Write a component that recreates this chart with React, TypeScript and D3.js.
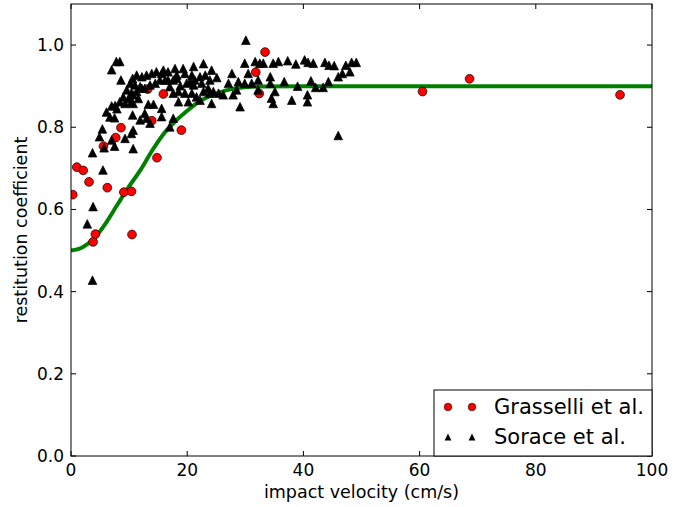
import React from 'react';
import * as d3 from 'd3';

const W = 693;
const H = 507;

// Grasselli et al. [velocity cm/s, restitution]
const grasselli: [number, number][] = [
  [0.3, 0.636], [1.0, 0.703], [2.1, 0.695], [3.1, 0.667], [3.8, 0.521], [4.2, 0.540],
  [5.6, 0.754], [6.25, 0.653], [7.7, 0.775], [8.6, 0.799], [9.1, 0.642], [10.4, 0.644],
  [10.5, 0.539], [13.2, 0.893], [13.9, 0.816], [14.8, 0.726], [15.9, 0.881], [19.0, 0.793],
  [31.8, 0.934], [32.4, 0.882], [33.4, 0.983], [60.5, 0.887], [68.6, 0.918], [94.5, 0.879],
];

// Sorace et al.
const sorace: [number, number][] = [
  [2.8, 0.565], [3.7, 0.428], [3.8, 0.607], [3.7, 0.738], [4.9, 0.777], [5.4, 0.796],
  [5.5, 0.696], [5.7, 0.750], [6.1, 0.837], [6.7, 0.825], [7.0, 0.769], [7.0, 0.852],
  [7.5, 0.823], [7.5, 0.754], [7.0, 0.940], [7.8, 0.960], [8.4, 0.960], [8.6, 0.915],
  [7.6, 0.853], [7.9, 0.845], [8.4, 0.862], [9.3, 0.858], [10.4, 0.862],
  [9.0, 0.874], [9.9, 0.870], [10.7, 0.879], [11.6, 0.870],
  [9.6, 0.891], [10.4, 0.883], [11.3, 0.887], [12.2, 0.895],
  [10.2, 0.907], [11.0, 0.903], [11.9, 0.899], [12.7, 0.895], [13.6, 0.903], [14.5, 0.907],
  [10.6, 0.919], [11.3, 0.927], [12.2, 0.923], [13.0, 0.927], [13.9, 0.931], [14.7, 0.935], [15.6, 0.931],
  [9.3, 0.773], [10.4, 0.785], [10.7, 0.748], [10.7, 0.793], [10.6, 0.830], [11.9, 0.818],
  [12.7, 0.834], [13.0, 0.822], [13.6, 0.810], [13.3, 0.856], [14.2, 0.856], [10.7, 0.858],
  [15.3, 0.915], [15.9, 0.939], [16.2, 0.915], [16.7, 0.935], [16.7, 0.915], [17.6, 0.915],
  [17.9, 0.943], [18.2, 0.927], [18.2, 0.919], [19.3, 0.943], [19.6, 0.931], [20.8, 0.927],
  [21.1, 0.948], [21.3, 0.915], [22.2, 0.923], [22.8, 0.955], [23.1, 0.927], [23.9, 0.915],
  [24.2, 0.939], [25.1, 0.921], [27.7, 0.931], [28.8, 0.911], [27.1, 0.907], [29.9, 0.956],
  [30.5, 0.931], [30.1, 1.012], [31.7, 0.960],
  [22.5, 0.907], [21.1, 0.903], [19.9, 0.907], [18.8, 0.901], [17.0, 0.899], [17.6, 0.883],
  [18.5, 0.887], [19.6, 0.883], [20.8, 0.883], [21.6, 0.874], [22.8, 0.887], [23.6, 0.895],
  [24.5, 0.887], [25.4, 0.883], [26.2, 0.879], [27.9, 0.879], [28.5, 0.891], [29.9, 0.907],
  [31.1, 0.907], [29.1, 0.850], [24.2, 0.858], [22.2, 0.866], [20.2, 0.862], [18.5, 0.862],
  [17.6, 0.822], [17.0, 0.801], [15.6, 0.846], [15.6, 0.826], [20.5, 0.911], [23.9, 0.883],
  [32.5, 0.956], [33.1, 0.956], [34.8, 0.956], [35.7, 0.960], [37.3, 0.962], [38.7, 0.954],
  [40.2, 0.964], [40.8, 0.958], [41.7, 0.956], [43.7, 0.958], [44.4, 0.951], [45.3, 0.950],
  [47.3, 0.951], [48.3, 0.958], [49.1, 0.958],
  [32.2, 0.915], [34.3, 0.923], [34.3, 0.907], [36.7, 0.911], [39.0, 0.900], [41.3, 0.913],
  [42.1, 0.897], [43.4, 0.897], [44.3, 0.911], [46.0, 0.923], [46.7, 0.931], [48.0, 0.935],
  [32.2, 0.891], [35.1, 0.887], [34.5, 0.871], [34.8, 0.858], [38.0, 0.866], [40.7, 0.879],
  [40.7, 0.862], [46.0, 0.780],
];

// model curve
const fitV = [0, 2, 4, 6, 8, 10, 12, 14, 16, 18, 20, 22, 25, 28, 32, 40, 100];
const fitE = [0.5, 0.508, 0.53, 0.567, 0.612, 0.656, 0.697, 0.744, 0.785, 0.815, 0.84, 0.862, 0.882, 0.894, 0.899, 0.9, 0.9];

const xTicks = [0, 20, 40, 60, 80, 100];
const yTicks = [0.0, 0.2, 0.4, 0.6, 0.8, 1.0];

const left = 71, right = 652, top = 4, bottom = 456;
const FONT = 'DejaVu Sans, sans-serif';

const tri = (cx: number, cy: number, s: number) =>
  `M${cx},${cy - s}L${cx - s},${cy + s}L${cx + s},${cy + s}Z`;

export default function App() {
  const x = d3.scaleLinear().domain([0, 100]).range([left, right]);
  const y = d3.scaleLinear().domain([0, 1.1]).range([bottom, top]);

  const line = d3.line<number>()
    .x((d, i) => x(fitV[i]))
    .y(d => y(d))
    .curve(d3.curveMonotoneX);

  const lx = 434, ly = 390;

  return (
    <svg width={W} height={H} style={{ position: 'absolute', left: 0, top: 0, background: '#fff' }}
      fontFamily={FONT}>
      <rect x={0} y={0} width={W} height={H} fill="#fff" />
      <defs>
        <clipPath id="plot">
          <rect x={left} y={top} width={right - left} height={bottom - top} />
        </clipPath>
      </defs>
      <g clipPath="url(#plot)">
        <path d={line(fitE) || ''} fill="none" stroke="#008000" strokeWidth={4} />
        {grasselli.map((d, i) => (
          <circle key={'g' + i} cx={x(d[0])} cy={y(d[1])} r={4.4} fill="#ff0000" stroke="#000" strokeWidth={0.7} />
        ))}
        {sorace.map((d, i) => (
          <path key={'s' + i} d={tri(x(d[0]), y(d[1]), 4.3)} fill="#000" stroke="#000" strokeWidth={0.7} />
        ))}
      </g>

      {/* ticks */}
      {xTicks.map(t => (
        <g key={'xt' + t}>
          <line x1={x(t)} x2={x(t)} y1={bottom} y2={bottom - 5} stroke="#000" />
          <line x1={x(t)} x2={x(t)} y1={top} y2={top + 5} stroke="#000" />
          <text x={x(t)} y={476} fontSize={17} textAnchor="middle">{t}</text>
        </g>
      ))}
      {yTicks.map(t => (
        <g key={'yt' + t}>
          <line x1={left} x2={left + 5} y1={y(t)} y2={y(t)} stroke="#000" />
          <line x1={right} x2={right - 5} y1={y(t)} y2={y(t)} stroke="#000" />
          <text x={64} y={y(t) + 6} fontSize={17} textAnchor="end">{t.toFixed(1)}</text>
        </g>
      ))}
      <rect x={left} y={top} width={right - left} height={bottom - top} fill="none" stroke="#000" strokeWidth={1} />

      <text x={(left + right) / 2} y={498} fontSize={17.5} textAnchor="middle">impact velocity (cm/s)</text>
      <text transform={`translate(27,${(top + bottom) / 2}) rotate(-90)`} fontSize={17.5} textAnchor="middle">
        restitution coefficient
      </text>

      {/* legend */}
      <rect x={lx} y={ly} width={right - lx} height={bottom - ly} fill="#fff" stroke="#000" strokeWidth={1} />
      {[448, 472].map(cx => (
        <circle key={'lg' + cx} cx={cx} cy={407} r={3.8} fill="#ff0000" stroke="#000" strokeWidth={0.6} />
      ))}
      {[448, 472].map(cx => (
        <path key={'ls' + cx} d={tri(cx, 437, 3.4)} fill="#000" />
      ))}
      <text x={494} y={413.5} fontSize={21}>Grasselli et al.</text>
      <text x={494} y={443.5} fontSize={21}>Sorace et al.</text>
    </svg>
  );
}
